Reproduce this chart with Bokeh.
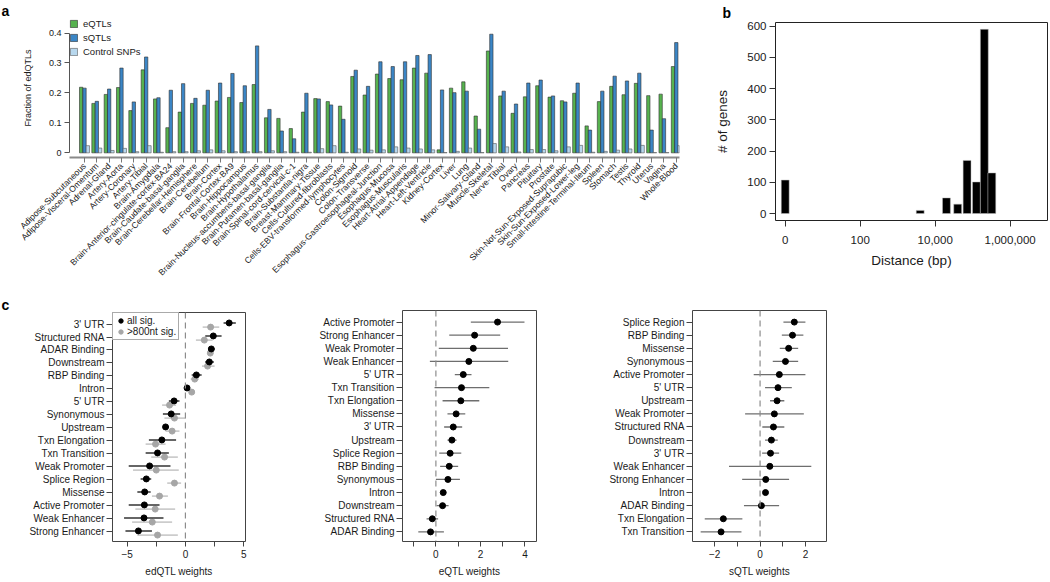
import math
from bokeh.plotting import figure
from bokeh.models import Range1d, FixedTicker, Span, Legend, LegendItem, ColumnDataSource
from bokeh.layouts import row, column
from bokeh.embed import file_html
from bokeh.resources import INLINE
from bokeh.transform import dodge

FONT = "Liberation Sans"
INK = "#1a1a1a"

# ---------------- panel a data ----------------
tissues = ["Adipose-Subcutaneous", "Adipose-Visceral-Omentum", "Adrenal-Gland", "Artery-Aorta",
           "Artery-Coronary", "Artery-Tibial", "Brain-Amygdala", "Brain-Anterior-cingulate-cortex-BA24",
           "Brain-Caudate-basal-ganglia", "Brain-Cerebellar-Hemisphere", "Brain-Cerebellum", "Brain-Cortex",
           "Brain-Frontal-Cortex-BA9", "Brain-Hippocampus", "Brain-Hypothalamus",
           "Brain-Nucleus-accumbens-basal-ganglia", "Brain-Putamen-basal-ganglia",
           "Brain-Spinal-cord-cervical-c-1", "Brain-Substantia-nigra", "Breast-Mammary-Tissue",
           "Cells-Cultured-fibroblasts", "Cells-EBV-transformed-lymphocytes", "Colon-Sigmoid",
           "Colon-Transverse", "Esophagus-Gastroesophageal-Junction", "Esophagus-Mucosa",
           "Esophagus-Muscularis", "Heart-Atrial-Appendage", "Heart-Left-Ventricle", "Kidney-Cortex",
           "Liver", "Lung", "Minor-Salivary-Gland", "Muscle-Skeletal", "Nerve-Tibial", "Ovary",
           "Pancreas", "Pituitary", "Prostate", "Skin-Not-Sun-Exposed-Suprapubic",
           "Skin-Sun-Exposed-Lower-leg", "Small-Intestine-Terminal-Ileum", "Spleen", "Stomach",
           "Testis", "Thyroid", "Uterus", "Vagina", "Whole-Blood"]
eqtl = [0.219, 0.165, 0.195, 0.218, 0.141, 0.277, 0.180, 0.084, 0.136, 0.165,
        0.159, 0.173, 0.185, 0.168, 0.228, 0.117, 0.115, 0.081, 0.136, 0.181,
        0.171, 0.156, 0.255, 0.193, 0.263, 0.248, 0.244, 0.283, 0.266, 0.010,
        0.216, 0.237, 0.123, 0.340, 0.190, 0.132, 0.187, 0.224, 0.186, 0.174,
        0.199, 0.090, 0.171, 0.222, 0.194, 0.232, 0.191, 0.196, 0.288]
sqtl = [0.216, 0.172, 0.213, 0.283, 0.170, 0.320, 0.184, 0.209, 0.231, 0.182,
        0.209, 0.233, 0.265, 0.224, 0.357, 0.145, 0.073, 0.047, 0.199, 0.180,
        0.160, 0.112, 0.276, 0.222, 0.304, 0.288, 0.304, 0.325, 0.328, 0.210,
        0.201, 0.206, 0.079, 0.396, 0.206, 0.163, 0.233, 0.243, 0.190, 0.170,
        0.233, 0.076, 0.206, 0.256, 0.240, 0.266, 0.076, 0.114, 0.368]
control = [0.024, 0.016, 0.008, 0.015, 0.004, 0.024, 0.002, 0.004, 0.004, 0.007,
           0.010, 0.007, 0.004, 0.004, 0.004, 0.007, 0.004, 0.002, 0.002, 0.014,
           0.024, 0.002, 0.013, 0.009, 0.010, 0.020, 0.016, 0.013, 0.010, 0.001,
           0.005, 0.016, 0.001, 0.031, 0.020, 0.003, 0.011, 0.011, 0.007, 0.020,
           0.025, 0.002, 0.005, 0.009, 0.013, 0.025, 0.001, 0.001, 0.024]
frac_ticks = [0, 0.1, 0.2, 0.3, 0.4]

# ---------------- panel b data ----------------
dist_log10 = [0.0, 3.6, 4.3, 4.6, 4.85, 5.1, 5.31, 5.51]
n_genes = [107, 10, 50, 30, 170, 101, 590, 130]
dist_ticks = [0, 2, 4, 6]
dist_tick_labels = ["0", "100", "10,000", "1,000,000"]
gene_ticks = [0, 100, 200, 300, 400, 500, 600]

# ---------------- panel c data ----------------
ed_cats = ["3' UTR", "Structured RNA", "ADAR Binding", "Downstream", "RBP Binding", "Intron",
           "5' UTR", "Synonymous", "Upstream", "Txn Elongation", "Txn Transition", "Weak Promoter",
           "Splice Region", "Missense", "Active Promoter", "Weak Enhancer", "Strong Enhancer"]
ed_all = [3.75, 2.39, 2.22, 2.05, 0.94, 0.14, -0.97, -1.22, -1.70, -2.02, -2.39, -3.07, -3.35, -3.49, -3.52, -3.55, -4.03]
ed_all_lo = [3.27, 1.70, 2.00, 1.68, 0.54, 0.05, -1.42, -1.93, -1.93, -3.13, -3.41, -4.86, -3.84, -4.12, -4.86, -5.26, -5.14]
ed_all_hi = [4.32, 3.10, 2.50, 2.44, 1.39, 0.25, -0.51, -0.45, -1.42, -0.80, -1.42, -1.28, -2.93, -2.98, -2.22, -1.88, -2.87]
ed_800 = [2.16, 1.62, 2.13, 1.90, 0.80, 0.54, -1.36, -0.94, -1.14, -2.56, -1.79, -2.50, -0.94, -2.22, -2.59, -2.84, -2.39]
ed_800_lo = [1.48, 0.90, 1.90, 1.42, 0.45, 0.43, -2.00, -1.80, -1.70, -3.41, -2.93, -4.49, -1.56, -2.87, -4.29, -4.57, -4.12]
ed_800_hi = [2.90, 2.33, 2.39, 2.50, 1.14, 0.65, -0.80, 0.00, -0.51, -1.70, -0.65, -0.57, -0.37, -1.50, -0.88, -1.14, -0.65]

e_cats = ["Active Promoter", "Strong Enhancer", "Weak Promoter", "Weak Enhancer", "5' UTR",
          "Txn Transition", "Txn Elongation", "Missense", "3' UTR", "Upstream", "Splice Region",
          "RBP Binding", "Synonymous", "Intron", "Downstream", "Structured RNA", "ADAR Binding"]
e_w = [2.77, 1.74, 1.68, 1.48, 1.23, 1.15, 1.12, 0.91, 0.78, 0.72, 0.64, 0.60, 0.54, 0.33, 0.30, -0.16, -0.24]
e_lo = [1.57, 0.60, 0.13, -0.27, 0.85, -0.06, 0.30, 0.52, 0.37, 0.52, 0.15, 0.19, 0.00, 0.27, 0.03, -0.42, -0.79]
e_hi = [3.98, 2.89, 3.24, 3.25, 1.60, 2.40, 1.95, 1.32, 1.18, 0.93, 1.14, 1.00, 1.08, 0.39, 0.57, 0.10, 0.36]

s_cats = ["Splice Region", "RBP Binding", "Missense", "Synonymous", "Active Promoter", "5' UTR",
          "Upstream", "Weak Promoter", "Structured RNA", "Downstream", "3' UTR", "Weak Enhancer",
          "Strong Enhancer", "Intron", "ADAR Binding", "Txn Elongation", "Txn Transition"]
s_w = [1.51, 1.43, 1.26, 1.12, 0.85, 0.79, 0.75, 0.63, 0.59, 0.50, 0.46, 0.43, 0.25, 0.24, 0.06, -1.62, -1.72]
s_lo = [1.03, 0.96, 0.87, 0.56, -0.28, 0.22, 0.44, -0.66, 0.10, 0.22, 0.09, -1.37, -0.79, 0.17, -0.71, -2.44, -2.62]
s_hi = [2.00, 1.91, 1.68, 1.68, 2.00, 1.40, 1.07, 1.93, 1.07, 0.78, 0.84, 2.26, 1.28, 0.31, 0.84, -0.78, -0.82]

GREEN = "#57b34f"
BLUE = "#3b86c6"
LIGHT = "#b8d8ee"
EDGE = "#2e2e2e"


def base_fig(w, h, xr, yr, bl, br, bt, bb):
    p = figure(width=w, height=h, x_range=xr, y_range=yr, output_backend="svg",
               toolbar_location=None, min_border_left=bl, min_border_right=br,
               min_border_top=bt, min_border_bottom=bb)
    try:
        p.frame_align = False
    except Exception:
        pass
    p.xgrid.visible = False
    p.ygrid.visible = False
    p.outline_line_color = None
    for ax in p.axis:
        ax.major_label_text_font = FONT
        ax.axis_label_text_font = FONT
        ax.axis_label_text_font_style = "normal"
        ax.minor_tick_line_color = None
        ax.major_tick_in = 0
        ax.minor_tick_in = 0
        ax.major_label_text_color = INK
        ax.axis_label_text_color = INK
    return p


def letter(p, txt, offset, standoff):
    p.title.text = txt
    p.title.align = "left"
    p.title.offset = offset
    p.title.standoff = standoff
    p.title.text_font = FONT
    p.title.text_font_style = "bold"
    p.title.text_font_size = "14px"
    p.title.text_color = "black"


W_TOTAL = 1048
H_TOP = 294
H_BOT = 285

# ================= panel a =================
W_A = 712
xa = list(range(1, len(tissues) + 1))
src_a = ColumnDataSource(dict(x=xa, e=eqtl, s=sqtl, c=control))
pa = base_fig(W_A, H_TOP, Range1d(-0.217, 49.26), Range1d(-0.0155, 0.4484), 69, 33, 16, H_TOP - 157)
bw = 0.27
r_e = pa.vbar(x=dodge("x", -bw), top="e", bottom=0, width=bw, source=src_a,
              fill_color=GREEN, line_color=EDGE, line_width=0.6)
r_s = pa.vbar(x="x", top="s", bottom=0, width=bw, source=src_a,
              fill_color=BLUE, line_color=EDGE, line_width=0.6)
r_c = pa.vbar(x=dodge("x", bw), top="c", bottom=0, width=bw, source=src_a,
              fill_color=LIGHT, line_color="#555555", line_width=0.6)

pa.yaxis.ticker = FixedTicker(ticks=frac_ticks)
pa.yaxis.major_label_overrides = {0: "0"}
pa.yaxis.bounds = (0, 0.4)
pa.yaxis.axis_label = "Fraction of edQTLs"
pa.yaxis.axis_label_text_font_size = "9px"
pa.yaxis.major_label_text_font_size = "9px"
pa.yaxis.major_tick_out = 5
pa.yaxis.major_label_standoff = 3
pa.yaxis.axis_label_standoff = 13
pa.yaxis.axis_line_color = "#555555"
pa.yaxis.major_tick_line_color = "#555555"

pa.xaxis.ticker = FixedTicker(ticks=xa)
pa.xaxis.major_label_overrides = {i: t for i, t in zip(xa, tissues)}
pa.xaxis.major_label_orientation = math.pi / 4
pa.xaxis.major_label_text_font_size = "8.6px"
pa.xaxis.major_tick_out = 5
pa.xaxis.major_label_standoff = 2
pa.xaxis.axis_line_color = "#8a8a8a"
pa.xaxis.axis_line_width = 1.8
pa.xaxis.major_tick_line_color = "#777777"

leg_a = Legend(items=[LegendItem(label="eQTLs", renderers=[r_e]),
                      LegendItem(label="sQTLs", renderers=[r_s]),
                      LegendItem(label="Control SNPs", renderers=[r_c])],
               location="top_left", margin=0, padding=2, spacing=3,
               glyph_width=9, glyph_height=9, label_height=9, label_standoff=5,
               label_text_font=FONT, label_text_font_size="9.5px", label_text_color=INK,
               border_line_color=None, background_fill_alpha=0)
pa.add_layout(leg_a)
letter(pa, "a", -68, 0)

# ================= panel b =================
W_B = W_TOTAL - W_A
src_b = ColumnDataSource(dict(d=dist_log10, n=n_genes))
pb = base_fig(W_B, H_TOP, Range1d(-0.259, 6.995), Range1d(-22.4, 611.9), 63, 1, 22, H_TOP - 220)
pb.outline_line_color = "#222222"
pb.outline_line_width = 1
pb.vbar(x="d", top="n", bottom=0, width=0.21, source=src_b,
        fill_color="black", line_color="#bbbbbb", line_width=0.5)
pb.xaxis.ticker = FixedTicker(ticks=dist_ticks)
pb.xaxis.major_label_overrides = {t: l for t, l in zip(dist_ticks, dist_tick_labels)}
pb.yaxis.ticker = FixedTicker(ticks=gene_ticks)
for ax in pb.axis:
    ax.axis_line_color = None
    ax.major_tick_out = 6
    ax.major_tick_line_color = "#333333"
    ax.major_label_text_font_size = "11.5px"
    ax.axis_label_text_font_size = "13.5px"
pb.xaxis.axis_label = "Distance (bp)"
pb.xaxis.major_label_standoff = 9
pb.xaxis.axis_label_standoff = 6
pb.yaxis.axis_label = "# of genes"
pb.yaxis.major_label_standoff = 3
pb.yaxis.axis_label_standoff = 14
letter(pb, "b", -53, 3)

# ================= panel c =================
NROW = 17
yr_c = (-0.733, 16.885)


def c_fig(w, bl, br, xr, cats, ticks, minor, tick_labels, xlabel):
    p = base_fig(w, H_BOT, Range1d(*xr), Range1d(*yr_c), bl, br, 16, 36)
    p.outline_line_color = "#444444"
    p.outline_line_width = 1
    ypos = [NROW - 1 - k for k in range(NROW)]
    p.yaxis.ticker = FixedTicker(ticks=ypos)
    p.yaxis.major_label_overrides = {y: c for y, c in zip(ypos, cats)}
    p.xaxis.ticker = FixedTicker(ticks=ticks, minor_ticks=minor)
    p.xaxis.major_label_overrides = {t: l for t, l in zip(ticks, tick_labels)}
    for ax in p.axis:
        ax.axis_line_color = None
        ax.major_tick_line_color = "#444444"
        ax.major_label_text_font_size = "10px"
        ax.axis_label_text_font_size = "10px"
    p.xaxis.minor_tick_line_color = "#444444"
    p.xaxis.major_tick_out = 5
    p.xaxis.minor_tick_out = 5
    p.xaxis.major_label_standoff = 3
    p.xaxis.axis_label_standoff = 5
    p.xaxis.axis_label = xlabel
    p.yaxis.major_tick_out = 6
    p.yaxis.major_label_standoff = 2
    p.add_layout(Span(location=0, dimension="height", line_color="#8c8c8c",
                      line_dash="6 4", line_width=1.2))
    return p, ypos


W_C1, W_C2 = 260, 300
W_C3 = W_TOTAL - W_C1 - W_C2

pc1, y1 = c_fig(W_C1, 112, 15, (-6.25, 5.15), ed_cats, [-5, 0, 5], [-2.5, 2.5],
                ["\u22125", "0", "5"], "edQTL weights")
src_c1 = ColumnDataSource(dict(y=y1, a=ed_all, alo=ed_all_lo, ahi=ed_all_hi,
                               g=ed_800, glo=ed_800_lo, ghi=ed_800_hi))
pc1.segment(x0="glo", x1="ghi", y0=dodge("y", -0.24), y1=dodge("y", -0.24), source=src_c1,
            line_color="#cccccc", line_width=1.8)
r_g = pc1.scatter(x="g", y=dodge("y", -0.24), source=src_c1, size=6,
                  fill_color="#a6a6a6", line_color="#a6a6a6")
pc1.segment(x0="alo", x1="ahi", y0=dodge("y", 0.08), y1=dodge("y", 0.08), source=src_c1,
            line_color="#333333", line_width=1.4)
r_a = pc1.scatter(x="a", y=dodge("y", 0.08), source=src_c1, size=6,
                  fill_color="black", line_color="black")
leg_c = Legend(items=[LegendItem(label="all sig.", renderers=[r_a]),
                      LegendItem(label=">800nt sig.", renderers=[r_g])],
               location="top_left", margin=0, padding=2, spacing=0,
               glyph_width=11, glyph_height=11, label_height=11, label_standoff=1,
               label_text_font=FONT, label_text_font_size="10px", label_text_color=INK,
               border_line_color="#555555", border_line_width=1,
               background_fill_color="white", background_fill_alpha=1)
pc1.add_layout(leg_c)
letter(pc1, "c", -111, 0)

pc2, y2 = c_fig(W_C2, 142, 24, (-1.5, 4.52), e_cats, [0, 2, 4], [-1, 1, 3],
                ["0", "2", "4"], "eQTL weights")
src_c2 = ColumnDataSource(dict(y=y2, w=e_w, lo=e_lo, hi=e_hi))
pc2.segment(x0="lo", x1="hi", y0="y", y1="y", source=src_c2, line_color="#6e6e6e", line_width=1.3)
pc2.scatter(x="w", y="y", source=src_c2, size=6, fill_color="black", line_color="black")

pc3, y3 = c_fig(W_C3, 132, W_C3 - 132 - 134, (-2.98, 2.93), s_cats, [-2, 0, 2], [-1, 1],
                ["\u22122", "0", "2"], "sQTL weights")
src_c3 = ColumnDataSource(dict(y=y3, w=s_w, lo=s_lo, hi=s_hi))
pc3.segment(x0="lo", x1="hi", y0="y", y1="y", source=src_c3, line_color="#6e6e6e", line_width=1.3)
pc3.scatter(x="w", y="y", source=src_c3, size=6, fill_color="black", line_color="black")

layout = column(row(pa, pb), row(pc1, pc2, pc3))
open("out.html", "w").write(file_html(layout, INLINE))
